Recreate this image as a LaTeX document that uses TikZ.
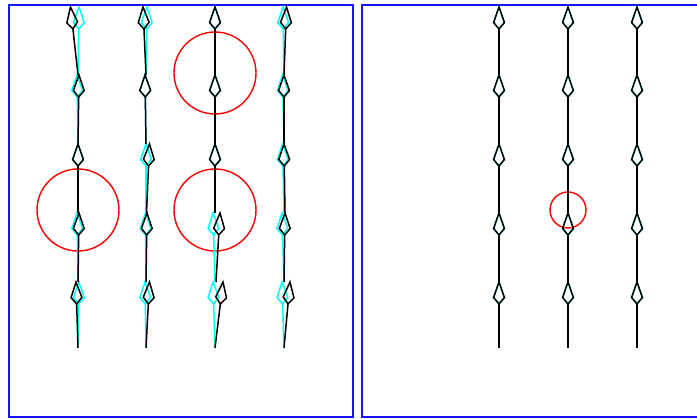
\documentclass[tikz,border=0pt]{standalone}
\definecolor{frameblue}{RGB}{20,20,255}
\definecolor{refcyan}{RGB}{0,255,255}
\definecolor{refred}{RGB}{255,0,0}
\tikzset{
  pics/kite/.style={code={
    \draw[#1,line width=1.5pt,line join=miter]
      (0,0) -- (-15.5,5.4) -- (-22,0) -- (-15.5,-5.4) -- cycle;}},
  framebox/.style={draw=frameblue,line width=1.5pt},
  redring/.style={draw=refred,line width=1.4pt},
  cyanseg/.style={draw=refcyan,line width=1.5pt,shorten >=22pt},
  blackseg/.style={draw=black,line width=1.5pt,shorten >=22pt},
  tipat/.style={pos=1,sloped,allow upside down},
}
\begin{document}
\begin{tikzpicture}[x=1pt,y=-1pt]
\useasboundingbox (0,0) rectangle (697,419);
% frames
\draw[framebox] (9,5) rectangle (353,417);
\coordinate (rtl) at (362,5);
\coordinate (rbl) at (362,417);
\draw[framebox] (698,5) -- (rtl) -- (rbl) -- (698,417);
% red circles
\coordinate (c1) at (78,210);
\coordinate (c2) at (215,73);
\coordinate (c3) at (215,210);
\coordinate (c4) at (568,210);
\draw[redring] (c1) circle[radius=41];
\draw[redring] (c2) circle[radius=41];
\draw[redring] (c3) circle[radius=41];
\draw[redring] (c4) circle[radius=18];
% cyan reference chains
\foreach \n/\sx/\sy/\ex/\ey in {
  a1/78/348/79/282, a2/78/282/77/213, a3/78/213/78/144, a4/78/144/77/75, a5/78/75/79/7,
  b1/146/348/145/282, b2/146/282/145.5/213, b3/146/213/146/144, b4/146/144/145/75, b5/146/75/147/7,
  c1/215/348/213/282, c2/215/282/213/213, c3/215/213/215/144, c4/215/144/215/75, c5/215/75/215/7,
  d1/284/348/282/282, d2/284/282/282/213, d3/284/213/282.5/144, d4/284/144/282.5/75, d5/284/75/283/7,
  e1/499/348/499/282, e2/499/282/499/213, e3/499/213/499/144, e4/499/144/499/75, e5/499/75/499/7,
  f1/568/348/568/282, f2/568/282/568/213, f3/568/213/568/144, f4/568/144/568/75, f5/568/75/568/7,
  g1/637/348/637/282, g2/637/282/637/213, g3/637/213/637/144, g4/637/144/637/75, g5/637/75/637/7}
{
  \coordinate (cs\n) at (\sx,\sy);
  \coordinate (ce\n) at (\ex,\ey);
  \draw[cyanseg] (cs\n) -- (ce\n);
  \path (cs\n) -- (ce\n) pic[tipat]{kite=refcyan};
}
% black computed chains
\foreach \n/\sx/\sy/\ex/\ey in {
  a1/78/348/76/282, a2/78/282/79/213, a3/78/213/78/144, a4/78/144/79/75, a5/78/75/70.5/7,
  b1/146/348/149.5/282, b2/146/282/147/213, b3/146.5/213/149.5/144, b4/146/144/145/75, b5/146/75/143/7,
  c1/215/348/223/282, c2/216/282/220/213, c3/215/213/215/144, c4/215/144/215/75, c5/215/75/215/7,
  d1/284/348/290/282, d2/284/282/285/213, d3/285/213/284/144, d4/284/144/284/75, d5/284/75/286.5/7,
  e1/499/348/499/282, e2/499/282/499/213, e3/499/213/499/144, e4/499/144/499/75, e5/499/75/499/7,
  f1/568/348/568/282, f2/568/282/568/213, f3/568/213/568/144, f4/568/144/568/75, f5/568/75/568/7,
  g1/637/348/637/282, g2/637/282/637/213, g3/637/213/637/144, g4/637/144/637/75, g5/637/75/637/7}
{
  \coordinate (bs\n) at (\sx,\sy);
  \coordinate (be\n) at (\ex,\ey);
  \draw[blackseg] (bs\n) -- (be\n);
  \path (bs\n) -- (be\n) pic[tipat]{kite=black};
}
\end{tikzpicture}
\end{document}
